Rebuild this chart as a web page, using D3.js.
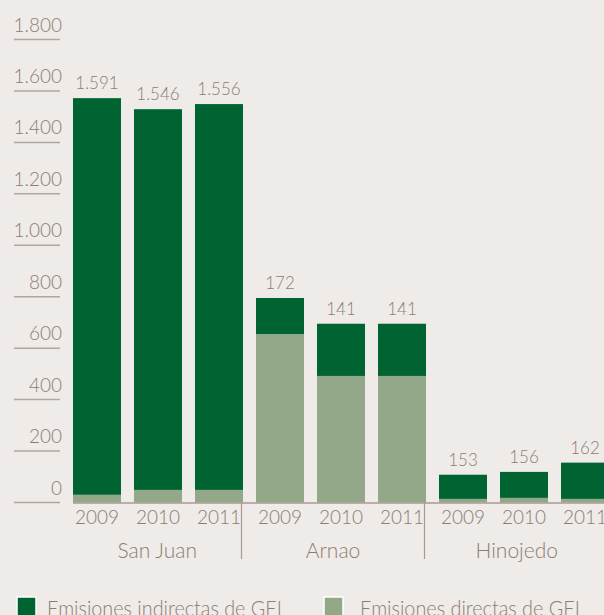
<!DOCTYPE html>
<html>
<head>
<meta charset="utf-8">
<script src="https://d3js.org/d3.v7.min.js"></script>
<style>
  body { margin: 0; background: #efebe8; }
  svg { display: block; font-family: 'Lato', 'Open Sans', sans-serif; font-weight: 300; }
  .txt { fill: #8b7d74; }
</style>
</head>
<body>
<svg width="604" height="615"></svg>
<script>
// data
const plants = ["San Juan", "Arnao", "Hinojedo"];
const years = ["2009", "2010", "2011"];
const directas = [30, 49, 49, 655, 492, 492, 14, 18, 14];
const indirectas = [1542, 1480, 1500, 140, 203, 203, 94, 101, 141];
const valueLabels = ["1.591", "1.546", "1.556", "172", "141", "141", "153", "156", "162"];
const yTicks = [0, 200, 400, 600, 800, 1000, 1200, 1400, 1600, 1800];
const seriesNames = ["Emisiones indirectas de GEI", "Emisiones directas de GEI"];
const colors = { indirectas: "#006432", directas: "#93a888" };

const rows = [];
plants.forEach((p, pi) => years.forEach((yr, yi) => {
  const i = pi * 3 + yi;
  rows.push({ key: p + "-" + yr, plant: p, year: yr, directas: directas[i], indirectas: indirectas[i], label: valueLabels[i] });
}));

const svg = d3.select("svg");
const fmt = d3.formatLocale({ decimal: ",", thousands: ".", grouping: [3] }).format(",d");

const y = d3.scaleLinear().domain([0, 1800]).range([502.5, 39.5]);
const x = d3.scaleBand().domain(rows.map(d => d.key))
  .range([66.5, 66.5 + 61 * 9]).paddingInner(13 / 61).paddingOuter(13 / 122);

// y ticks: label above a short rule
const ty = svg.append("g");
ty.selectAll("line").data(yTicks).join("line")
  .attr("x1", 14).attr("x2", 60)
  .attr("y1", d => y(d)).attr("y2", d => y(d))
  .attr("stroke", "#b3a69e").attr("stroke-width", 1.5);
ty.selectAll("text").data(yTicks).join("text")
  .attr("class", "txt")
  .attr("x", 62).attr("y", d => y(d) - 8)
  .attr("text-anchor", "end")
  .attr("font-size", 19)
  .text(d => fmt(d));

// stacked bars
const stack = d3.stack().keys(["directas", "indirectas"]);
const layers = stack(rows);
svg.append("g").selectAll("g").data(layers).join("g")
  .attr("fill", d => colors[d.key])
  .selectAll("rect").data(d => d).join("rect")
  .attr("x", d => x(d.data.key))
  .attr("width", x.bandwidth())
  .attr("y", d => y(d[1]))
  .attr("height", d => y(d[0]) - y(d[1]));

// value labels
svg.append("g").selectAll("text").data(rows).join("text")
  .attr("class", "txt")
  .attr("x", d => x(d.key) + x.bandwidth() / 2)
  .attr("y", d => y(d.directas + d.indirectas) - 9)
  .attr("text-anchor", "middle")
  .attr("font-size", 17)
  .text(d => d.label);

// axis line
svg.append("line")
  .attr("x1", x(rows[0].key)).attr("x2", 604)
  .attr("y1", y(0) + 0.5).attr("y2", y(0) + 0.5)
  .attr("stroke", "#a89a92").attr("stroke-width", 1.5);

// year labels
svg.append("g").selectAll("text").data(rows).join("text")
  .attr("class", "txt")
  .attr("x", d => x(d.key) + x.bandwidth() / 2)
  .attr("y", 524)
  .attr("text-anchor", "middle")
  .attr("font-size", 19)
  .text(d => d.year);

// group separators and plant labels
const seps = plants.slice(0, -1).map(p => x(p + "-2011") + x.bandwidth() - 1.5);
svg.append("g").selectAll("line").data(seps).join("line")
  .attr("x1", d => d).attr("x2", d => d)
  .attr("y1", y(0)).attr("y2", 559)
  .attr("stroke", "#a89a92").attr("stroke-width", 1.2);

const bounds = [x(plants[0] + "-2009"), ...seps, x(plants[2] + "-2011") + x.bandwidth()];
svg.append("g").selectAll("text").data(plants).join("text")
  .attr("class", "txt")
  .attr("x", (d, i) => (bounds[i] + bounds[i + 1]) / 2)
  .attr("y", 558)
  .attr("text-anchor", "middle")
  .attr("font-size", 21)
  .text(d => d);

// legend
const legend = svg.append("g");
const lx = [17, 324];
const lc = [colors.indirectas, colors.directas];
legend.selectAll("rect").data(seriesNames).join("rect")
  .attr("x", (d, i) => lx[i]).attr("y", 597)
  .attr("width", 19).attr("height", 19)
  .attr("fill", (d, i) => lc[i])
  .attr("stroke", "#ffffff").attr("stroke-width", 1.5);
legend.selectAll("text").data(seriesNames).join("text")
  .attr("class", "txt")
  .attr("x", (d, i) => lx[i] + 30 + (i ? 6 : 0))
  .attr("y", 616)
  .attr("font-size", 21)
  .attr("textLength", (d, i) => i ? 220 : 235)
  .attr("lengthAdjust", "spacingAndGlyphs")
  .text(d => d);
</script>
</body>
</html>
